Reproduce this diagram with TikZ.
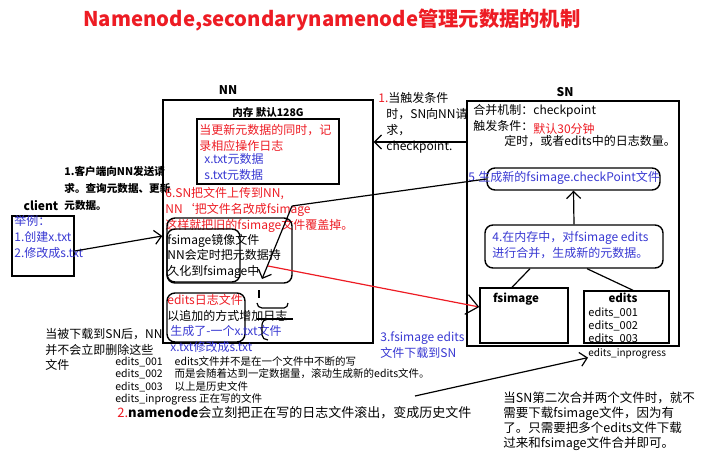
\documentclass[tikz,border=0pt]{standalone}
\usepackage{fontspec}
\setmainfont{Noto Sans CJK SC}
\usetikzlibrary{arrows.meta,positioning}
\definecolor{titlered}{RGB}{237,28,36}
\definecolor{noteblue}{RGB}{56,56,210}
\begin{document}
\begin{tikzpicture}[x=1pt, y=-1pt, thick,
  frame/.style = {draw, line width=1.4pt, inner sep=0pt},
  rframe/.style = {frame, rounded corners=8pt},
  txt/.style = {anchor=north west, inner sep=0pt, align=left, font=\fontsize{12}{16}\selectfont},
  small/.style = {txt, font=\fontsize{10.5}{12.5}\selectfont},
  head/.style = {inner sep=0pt, font=\bfseries\fontsize{12}{14}\selectfont},
  blu/.style = {txt, text=noteblue},
  rd/.style = {txt, text=titlered},
  arr/.style = {-{Straight Barb[length=7pt, width=14pt]}, line width=1.2pt}]
\useasboundingbox (0,0) rectangle (714,473);
% title
\node[inner sep=0pt, text=titlered, font=\bfseries\fontsize{20.3}{24}\selectfont] (title) at (332,20) {Namenode,secondarynamenode管理元数据的机制};
% client
\node[head] (clientlbl) at (41,206) {client};
\node[frame, minimum width=62pt, minimum height=60pt] (client) at (43,246) {};
\node[blu] (example) at (14,214.5) {举例：\\1.创建x.txt\\2.修改成s.txt};
\node[txt, font=\bfseries\fontsize{10.6}{17}\selectfont] (request) at (64,166) {1.客户端向NN发送请\\求。查询元数据、更新\\元数据。};
% namenode
\node[head] (nnlbl) at (228,90) {NN};
\node[frame, minimum width=210pt, minimum height=243pt] (nn) at (268,221.5) {};
\node[head, font=\bfseries\fontsize{10.5}{12}\selectfont] (memlbl) at (268,113) {内存 默认128G};
\node[frame, minimum width=142pt, minimum height=65pt] (mem) at (268,151.5) {};
\node[rd] (memnote) at (199,123.5) {当更新元数据的同时，记\\录相应操作日志};
\node[blu] (memdata) at (204,153.5) {x.txt元数据\\s.txt元数据};
\node[rd] (upload) at (165,186.5) {6.SN把文件上传到NN,\\NN`把文件名改成fsimage\\这样就把旧的fsimage文件覆盖掉。};
\node[rframe, minimum width=125pt, minimum height=65pt] (imgwide) at (229.5,250.5) {};
\node[rframe, minimum width=73pt, minimum height=53pt] (img) at (203.5,255.5) {};
\node[txt, font=\fontsize{12}{15.5}\selectfont] (persist) at (167,233.5) {fsimage镜像文件\\NN会定时把元数据持\\久化到fsimage中};
\coordinate (persistend) at (268,266);
\node[rframe, minimum width=78pt, minimum height=49pt] (log) at (206,317.5) {};
\node[rd] (loglbl) at (167,293.5) {edits日志文件};
\node[txt] (logadd) at (167,309.5) {以追加的方式增加日志};
\node[blu] (logx) at (170,324.5) {生成了-一个x.txt文件\\x.txt修改成s.txt};
% hand marks
\draw[line width=1.2pt] (259,290) -- (259,298);
\draw[line width=1.2pt] (257,303) to[out=-90, in=180] (262,308) -- (284,308) to[out=0, in=-90] (288,303);
\draw[line width=1.2pt] (257,319) -- (293,319);
\draw[line width=1.2pt] (268,319) to[out=180, in=90] (262,325) -- (262,335) to[out=-90, in=180] (268,340);
% checkpoint trigger
\node[txt] (trigger) at (378,91.5) {{\color{titlered}1.}当触发条件\\\hspace*{8pt}时，SN向NN请\\\hspace*{8pt}求，\\\hspace*{8pt}checkpoint.};
% secondary namenode
\node[head] (snlbl) at (565,92) {SN};
\node[frame, minimum width=212pt, minimum height=245pt] (sn) at (573,223.5) {};
\node[txt] (merge) at (473,103.5) {合并机制：checkpoint\\触发条件：};
\node[txt, text=titlered] (period) at (533,123.5) {默认30分钟};
\node[txt] (cond) at (504,134.5) {定时，或者edits中的日志数量。};
\node[rframe, minimum width=173pt, minimum height=22pt] (newimg) at (573.5,179) {};
\node[blu] (step5) at (468,170.5) {5.生成新的fsimage.checkPoint文件};
\node[rframe, minimum width=178pt, minimum height=43pt] (combine) at (574,246.5) {};
\node[blu] (step4) at (492,231.5) {4.在内存中，对fsimage edits\\进行合并，生成新的元数据。};
\node[frame, minimum width=88pt, minimum height=55pt] (fs) at (524,315.5) {};
\node[head, font=\bfseries\fontsize{11.5}{13}\selectfont] (fslbl) at (516,299) {fsimage};
\node[frame, minimum width=85pt, minimum height=52pt] (ed) at (626.5,317) {};
\node[head, font=\bfseries\fontsize{11.5}{13}\selectfont] (edlbl) at (623,298) {edits};
\node[small, font=\fontsize{11}{13}\selectfont] (edlist) at (588,307) {edits\_001\\edits\_002\\edits\_003};
\node[small, font=\fontsize{10}{12}\selectfont] (edprog) at (588,348) {edits\_inprogress};
\node[blu] (step3) at (380,331.5) {3.fsimage edits\\文件下载到SN};
% notes below
\node[txt, font=\fontsize{12}{15.5}\selectfont] (keep) at (45,328.5) {当被下载到SN后，NN\\并不会立即删除这些\\文件};
\node[small] (hist) at (115,356) {edits\_001\hspace{12pt}edits文件并不是在一个文件中不断的写\\edits\_002\hspace{12pt}而是会随着达到一定数据量，滚动生成新的edits文件。\\edits\_003\hspace{12pt}以上是历史文件\\edits\_inprogress 正在写的文件};
\node[txt, font=\fontsize{13}{15}\selectfont] (roll) at (117,406) {{\color{titlered}2.}\textbf{namenode}会立刻把正在写的日志文件滚出，变成历史文件};
\node[txt, font=\fontsize{12.5}{15}\selectfont] (second) at (503,392) {当SN第二次合并两个文件时，就不\\需要下载fsimage文件，因为有\\了。只需要把多个edits文件下载\\过来和fsimage文件合并即可。};
% connectors
\coordinate (turn) at (292,206);
\coordinate (rolltail) at (415,396);
\draw[arr] ([yshift=-5pt]client.east) -- ([yshift=-14.5pt]nn.west);
\draw[arr] ([yshift=81.5pt]sn.west) -- ([yshift=79.5pt]nn.east);
\draw[arr] (combine.north) -- (newimg.south);
\draw[line width=1.2pt] ([xshift=-12pt]fs.north) -- ([xshift=-44pt]combine.south);
\draw[line width=1.2pt] ([xshift=6.5pt]ed.north) -- ([xshift=13pt]combine.south);
\draw[line width=1.2pt] (newimg.west) -- (turn);
\draw[arr] (turn) -- (262,279);
\draw[titlered, line width=1.2pt, -{Straight Barb[length=12pt, width=20pt, color=black]}] (persistend) -- ([yshift=8.5pt]fs.west);
\draw[arr] (rolltail) -- ([yshift=-4pt]edprog.west);
\end{tikzpicture}
\end{document}
